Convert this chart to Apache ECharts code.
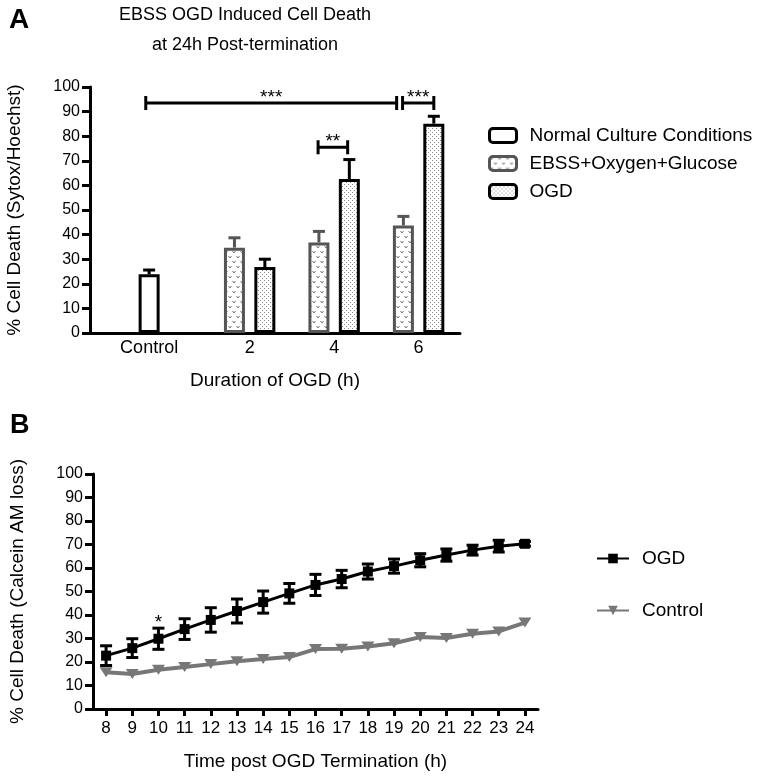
<!DOCTYPE html>
<html><head><meta charset="utf-8">
<script src="https://cdn.jsdelivr.net/npm/echarts@6/dist/echarts.min.js"></script>
<style>html,body{margin:0;padding:0;background:#fff}#c{width:771px;height:780px}</style>
</head><body><div id="c"></div>
<script>
// ---------- Panel A data ----------
const catsA = ['Control', '2', '4', '6'];
const normalVals = [23.9, null, null, null];
const normalErr  = [1.7, null, null, null];
const ebssVals   = [null, 34.7, 36.8, 43.7];
const ebssErr    = [null, 4.0, 4.5, 3.7];
const ogdVals    = [null, 26.8, 62.6, 85.1];
const ogdErr     = [null, 3.2, 7.9, 3.0];
// significance brackets (x in axis units, y in % units)
const sigFrom = [0.66, 3.70, 2.70];
const sigTo   = [3.63, 4.07, 3.05];
const sigY    = [93.5, 93.5, 75.5];
const sigText = ['***', '***', '**'];

// ---------- Panel B data ----------
const timesB = ['8','9','10','11','12','13','14','15','16','17','18','19','20','21','22','23','24'];
const ogdB    = [22.7, 25.9, 29.9, 34.0, 37.9, 41.7, 45.5, 49.2, 52.8, 55.3, 58.5, 60.8, 63.3, 65.5, 67.6, 69.3, 70.3];
const ogdBErr = [4.2, 4.0, 4.5, 4.4, 5.2, 5.1, 4.7, 4.2, 4.5, 3.7, 3.2, 3.0, 2.8, 2.6, 2.1, 2.5, 1.0];
const ctrlB   = [15.6, 14.9, 16.7, 17.9, 19.1, 20.3, 21.3, 22.1, 25.5, 25.6, 26.6, 28.0, 30.6, 30.2, 32.0, 33.0, 36.8];
const starB   = ['10'];
const starText = ['*'];

// ---------- layout ----------
const groupPos = [0.70, 1.89, 2.89, 3.89];
const barOff = 0.18;
const FONT = 'Liberation Sans, Arial, Helvetica, sans-serif';

function dotPattern() {
  const c = document.createElement('canvas'); c.width = 4; c.height = 4;
  const g = c.getContext('2d');
  g.fillStyle = '#fff'; g.fillRect(0, 0, 4, 4);
  g.fillStyle = '#8a8a8a'; g.fillRect(0, 0, 1, 1); g.fillRect(2, 2, 1, 1);
  return c;
}
function vPattern() {
  const c = document.createElement('canvas'); c.width = 8; c.height = 10;
  const g = c.getContext('2d');
  g.fillStyle = '#fff'; g.fillRect(0, 0, 8, 10);
  g.strokeStyle = '#777'; g.lineWidth = 1;
  function v(x, y) { g.beginPath(); g.moveTo(x, y); g.lineTo(x + 1.5, y + 2); g.lineTo(x + 3, y); g.stroke(); }
  v(0.5, 1); v(4.5, 6);
  return c;
}

const barsNormal = [], barsE = [], barsO = [], errN = [], errE = [], errO = [];
catsA.forEach((c, i) => {
  if (normalVals[i] != null) { barsNormal.push([groupPos[i], normalVals[i]]); errN.push([groupPos[i], normalVals[i], normalErr[i]]); }
  if (ebssVals[i] != null) { barsE.push([groupPos[i] - barOff, ebssVals[i]]); errE.push([groupPos[i] - barOff, ebssVals[i], ebssErr[i]]); }
  if (ogdVals[i] != null) { barsO.push([groupPos[i] + barOff, ogdVals[i]]); errO.push([groupPos[i] + barOff, ogdVals[i], ogdErr[i]]); }
});

function errUp(color) {
  return function (params, api) {
    const x = api.value(0), v = api.value(1), e = api.value(2);
    const p0 = api.coord([x, v]), p1 = api.coord([x, v + e]);
    const hw = 6, st = { stroke: color, lineWidth: 3 };
    return { type: 'group', children: [
      { type: 'line', shape: { x1: p0[0], y1: p0[1], x2: p1[0], y2: p1[1] }, style: st },
      { type: 'line', shape: { x1: p1[0] - hw, y1: p1[1], x2: p1[0] + hw, y2: p1[1] }, style: st }
    ]};
  };
}

const sigData = sigFrom.map((f, i) => [f, sigTo[i], sigY[i]]);
function sigRender(params, api) {
  const a = api.coord([api.value(0), api.value(2)]);
  const b = api.coord([api.value(1), api.value(2)]);
  const st = { stroke: '#000', lineWidth: 3 };
  const h = 7;
  return { type: 'group', children: [
    { type: 'line', shape: { x1: a[0], y1: a[1], x2: b[0], y2: b[1] }, style: st },
    { type: 'line', shape: { x1: a[0], y1: a[1] - h, x2: a[0], y2: a[1] + h }, style: st },
    { type: 'line', shape: { x1: b[0], y1: b[1] - h, x2: b[0], y2: b[1] + h }, style: st },
    { type: 'text', x: (a[0] + b[0]) / 2, y: a[1] + 4, style: { text: sigText[params.dataIndex], fill: '#000', font: '19px ' + FONT, align: 'center', verticalAlign: 'bottom' } }
  ]};
}

const errBData = ogdB.map((v, i) => [i, v, ogdBErr[i]]);
function errBoth(params, api) {
  const x = api.value(0), v = api.value(1), e = api.value(2);
  const p0 = api.coord([x, v - e]), p1 = api.coord([x, v + e]);
  const hw = 6, st = { stroke: '#000', lineWidth: 3 };
  return { type: 'group', children: [
    { type: 'line', shape: { x1: p0[0], y1: p0[1], x2: p1[0], y2: p1[1] }, style: st },
    { type: 'line', shape: { x1: p0[0] - hw, y1: p0[1], x2: p0[0] + hw, y2: p0[1] }, style: st },
    { type: 'line', shape: { x1: p1[0] - hw, y1: p1[1], x2: p1[0] + hw, y2: p1[1] }, style: st }
  ]};
}
const starData = starB.map(t => { const i = timesB.indexOf(t); return [i, ogdB[i] + ogdBErr[i]]; });
function starRender(params, api) {
  const p = api.coord([api.value(0), api.value(1)]);
  return { type: 'text', x: p[0], y: p[1] + 4, style: { text: starText[params.dataIndex], fill: '#000', font: '19px ' + FONT, align: 'center', verticalAlign: 'bottom' } };
}

const yAxisBase = {
  type: 'value', min: 0, max: 100, interval: 10,
  axisLine: { show: true, lineStyle: { color: '#000', width: 3 } },
  axisTick: { show: true, length: 8, lineStyle: { color: '#000', width: 3 } },
  axisLabel: { fontSize: 16, color: '#000', margin: 10, fontFamily: FONT },
  splitLine: { show: false },
  nameLocation: 'middle', nameGap: 66,
  nameTextStyle: { fontSize: 19, color: '#000', fontFamily: FONT }
};

const chart = echarts.init(document.getElementById('c'));
chart.setOption({
  animation: false,
  backgroundColor: '#fff',
  textStyle: { fontFamily: FONT, color: '#000' },
  title: [
    { text: 'EBSS OGD Induced Cell Death\nat 24h Post-termination', left: 240, textAlign: 'center', top: -5,
      textStyle: { fontSize: 18, fontWeight: 'normal', color: '#000', lineHeight: 30, fontFamily: FONT } },
    { text: 'A', left: 4, top: 1, textStyle: { fontSize: 28, fontWeight: 'bold', color: '#000', fontFamily: FONT } },
    { text: 'B', left: 5, top: 407, textStyle: { fontSize: 27, fontWeight: 'bold', color: '#000', fontFamily: FONT } }
  ],
  legend: [
    { orient: 'vertical', left: 483, top: 121, itemWidth: 27, itemHeight: 14, itemGap: 9,
      textStyle: { fontSize: 19, color: '#000', fontFamily: FONT, padding: [0, 0, 0, 8] },
      itemStyle: { borderWidth: 3 },
      data: ['Normal Culture Conditions', 'EBSS+Oxygen+Glucose', 'OGD'] },
    { orient: 'vertical', left: 591, top: 544, itemWidth: 32, itemHeight: 12, itemGap: 33,
      textStyle: { fontSize: 19, color: '#000', fontFamily: FONT, padding: [0, 0, 0, 8] },
      data: ['OGD ', 'Control'] }
  ],
  grid: [
    { left: 90, top: 87, width: 370, height: 246 },
    { left: 90, top: 474, width: 448, height: 235 }
  ],
  xAxis: [
    { type: 'value', gridIndex: 0, min: 0, max: 4.38,
      axisLine: { show: true, onZero: false, lineStyle: { color: '#000', width: 3 } },
      axisTick: { show: false }, splitLine: { show: false },
      axisLabel: { customValues: groupPos, fontSize: 18, color: '#000', margin: 6, fontFamily: FONT,
        formatter: v => { let bi = 0, bd = 1e9; groupPos.forEach((g, i) => { const d = Math.abs(g - v); if (d < bd) { bd = d; bi = i; } }); return catsA[bi]; } },
      name: 'Duration of OGD (h)', nameLocation: 'middle', nameGap: 38,
      nameTextStyle: { fontSize: 19, color: '#000', fontFamily: FONT } },
    { type: 'category', gridIndex: 1, data: timesB, boundaryGap: true,
      axisLine: { show: true, lineStyle: { color: '#000', width: 3 } },
      axisTick: { show: true, alignWithLabel: true, length: 7, lineStyle: { color: '#000', width: 3 } },
      axisLabel: { fontSize: 17, color: '#000', margin: 11, fontFamily: FONT, interval: 0 },
      name: 'Time post OGD Termination (h)', nameLocation: 'middle', nameGap: 43,
      nameTextStyle: { fontSize: 19, color: '#000', fontFamily: FONT } }
  ],
  yAxis: [
    Object.assign({}, yAxisBase, { gridIndex: 0, name: '% Cell Death (Sytox/Hoechst)' }),
    Object.assign({}, yAxisBase, { gridIndex: 1, name: '% Cell Death (Calcein AM loss)' })
  ],
  series: [
    { type: 'bar', name: 'Normal Culture Conditions', xAxisIndex: 0, yAxisIndex: 0, barWidth: 21, barGap: '-100%',
      data: barsNormal, itemStyle: { color: '#fff', borderColor: '#000', borderWidth: 3 } },
    { type: 'bar', name: 'EBSS+Oxygen+Glucose', xAxisIndex: 0, yAxisIndex: 0, barWidth: 21, barGap: '-100%',
      data: barsE, itemStyle: { color: { image: vPattern(), repeat: 'repeat' }, borderColor: '#555', borderWidth: 3 } },
    { type: 'bar', name: 'OGD', xAxisIndex: 0, yAxisIndex: 0, barWidth: 21, barGap: '-100%',
      data: barsO, itemStyle: { color: { image: dotPattern(), repeat: 'repeat' }, borderColor: '#000', borderWidth: 3 } },
    { type: 'custom', xAxisIndex: 0, yAxisIndex: 0, data: errN, renderItem: errUp('#000'), z: 5, silent: true },
    { type: 'custom', xAxisIndex: 0, yAxisIndex: 0, data: errE, renderItem: errUp('#555'), z: 5, silent: true },
    { type: 'custom', xAxisIndex: 0, yAxisIndex: 0, data: errO, renderItem: errUp('#000'), z: 5, silent: true },
    { type: 'custom', xAxisIndex: 0, yAxisIndex: 0, data: sigData, renderItem: sigRender, z: 6, silent: true },

    { type: 'line', name: 'Control', xAxisIndex: 1, yAxisIndex: 1, data: ctrlB,
      symbol: 'triangle', symbolRotate: 180, symbolSize: [13, 10],
      lineStyle: { color: '#777', width: 4 }, itemStyle: { color: '#777' }, z: 3 },
    { type: 'custom', xAxisIndex: 1, yAxisIndex: 1, data: errBData, renderItem: errBoth, z: 4, silent: true },
    { type: 'line', name: 'OGD ', xAxisIndex: 1, yAxisIndex: 1, data: ogdB,
      symbol: 'rect', symbolSize: 10,
      lineStyle: { color: '#000', width: 3 }, itemStyle: { color: '#000' }, z: 5 },
    { type: 'custom', xAxisIndex: 1, yAxisIndex: 1, data: starData, renderItem: starRender, z: 6, silent: true }
  ]
});
</script>
</body></html>
